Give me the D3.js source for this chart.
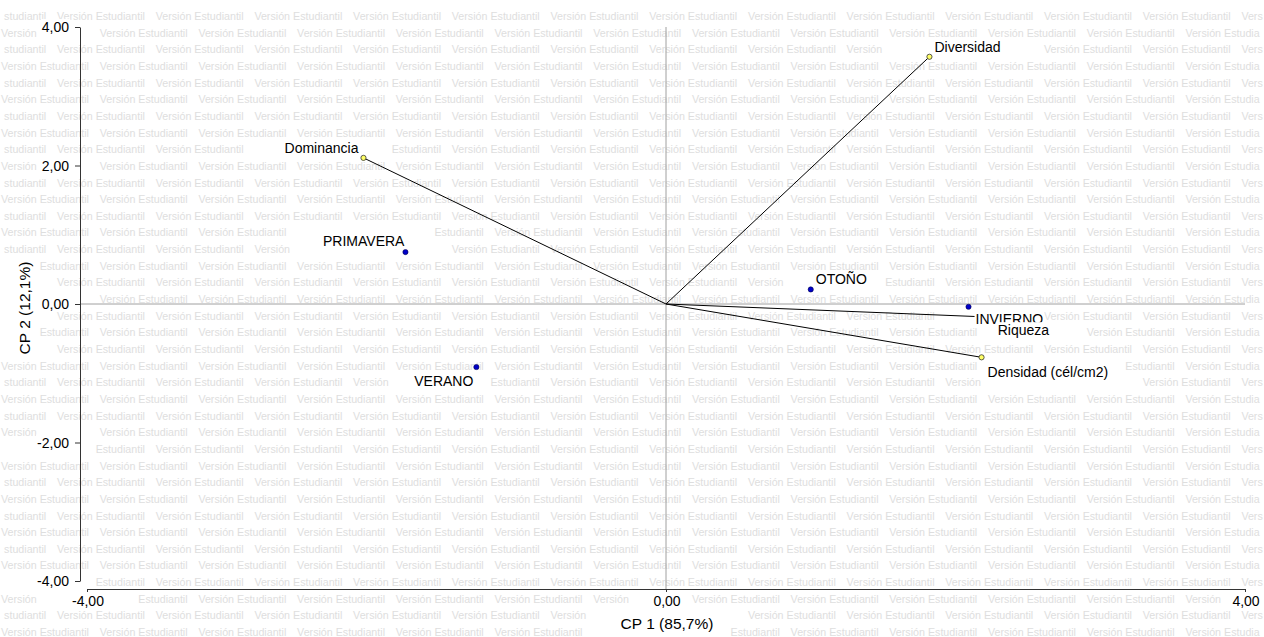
<!DOCTYPE html>
<html>
<head>
<meta charset="utf-8">
<script src="https://cdn.jsdelivr.net/npm/d3@7"></script>
<style>
  html, body { margin: 0; padding: 0; background: #fff; }
  svg { display: block; font-family: "Liberation Sans", Arial, sans-serif; }
</style>
</head>
<body>
<svg id="chart" width="1264" height="637"></svg>
<script>
// ---- data ----
const variables = ["Diversidad", "Dominancia", "Riqueza", "Densidad (cél/cm2)"];
const varX = [1.82, -2.09, 2.25, 2.18];
const varY = [3.57, 2.11, -0.19, -0.77];

const cases = ["PRIMAVERA", "VERANO", "OTOÑO", "INVIERNO"];
const caseX = [-1.80, -1.31, 1.00, 2.09];
const caseY = [0.75, -0.91, 0.21, -0.04];

const xTicks = [-4, 0, 4];
const yTicks = [4, 2, 0, -2, -4];
const xTitle = "CP 1 (85,7%)";
const yTitle = "CP 2 (12,1%)";
const watermarkWords = ["Versión", "Estudiantil"];

// ---- label placement (style) ----
const varLabelPos = [
  {dx: 5, dy: -10, anchor: "start"},
  {dx: -5, dy: -10, anchor: "end"},
  {dx: 6, dy: 13, anchor: "start"},
  {dx: 6, dy: 15, anchor: "start"}
];
const caseLabelPos = [
  {dx: -1, dy: -11, anchor: "end"},
  {dx: -3, dy: 14, anchor: "end"},
  {dx: 5, dy: -10, anchor: "start"},
  {dx: 7, dy: 12, anchor: "start"}
];

const svg = d3.select("#chart");
const W = 1264, H = 637;

const x = d3.scaleLinear().domain([-4, 4]).range([87, 1245]);
const y = d3.scaleLinear().domain([-4, 4]).range([581, 27]);

const loc = d3.formatLocale({decimal: ",", thousands: ".", grouping: [3], currency: ["", ""], minus: "-"});
const fmt = loc.format(".2f");

const wmG = svg.append("g").attr("fill", "#dedede").style("font-size", "10.7px");
const refG = svg.append("g");
const axG = svg.append("g");
const vecG = svg.append("g");
const labG = svg.append("g");

const boxes = [];
function labelWithBg(g, tx, ty, text, anchor, size, extra) {
  const grp = g.append("g");
  const rect = grp.append("rect").attr("fill", "#fff");
  const t = grp.append("text")
    .attr("x", tx).attr("y", ty)
    .attr("text-anchor", anchor)
    .attr("dominant-baseline", "central")
    .style("font-size", size + "px")
    .attr("fill", "#000")
    .text(text);
  if (extra) extra(t);
  const b = t.node().getBBox();
  rect.attr("x", b.x - 1).attr("y", b.y).attr("width", b.width + 2).attr("height", b.height);
  if (extra) extra(rect);
  const r = t.node().getBoundingClientRect();
  boxes.push({x0: r.left, y0: r.top + 2, x1: r.right, y1: r.bottom - 2});
  return grp;
}

// ---- reference lines ----
refG.append("line").attr("x1", x(0)).attr("x2", x(0)).attr("y1", 27).attr("y2", 589)
  .attr("stroke", "#a0a0a0").attr("stroke-width", 1);
refG.append("line").attr("x1", 80).attr("x2", 1245).attr("y1", y(0)).attr("y2", y(0))
  .attr("stroke", "#a0a0a0").attr("stroke-width", 1);

// ---- axes ----
const yAxis = axG.append("g").attr("transform", "translate(80,0)")
  .call(d3.axisLeft(y).tickValues(yTicks).tickSize(5).tickSizeOuter(0).tickFormat(() => ""));
yAxis.select(".domain").attr("stroke", "#333");
yAxis.selectAll(".tick line").attr("stroke", "#333");

const xAxis = axG.append("g").attr("transform", "translate(0,589)")
  .call(d3.axisBottom(x).tickValues(xTicks).tickSize(3).tickSizeOuter(0).tickFormat(() => ""));
xAxis.select(".domain").attr("stroke", "#333");
xAxis.selectAll(".tick line").attr("stroke", "#333");

yTicks.forEach(v => labelWithBg(axG, 69, y(v), fmt(v), "end", 14));
xTicks.forEach(v => labelWithBg(axG, x(v) + 1, 601, fmt(v), "middle", 14));

labelWithBg(axG, 667, 623, xTitle, "middle", 15.5);
labelWithBg(axG, 0, 0, yTitle, "middle", 15.5,
  s => s.attr("transform", "translate(24,308) rotate(-90)"));

// ---- vectors ----
variables.forEach((v, i) => {
  vecG.append("line")
    .attr("x1", x(0)).attr("y1", y(0))
    .attr("x2", x(varX[i])).attr("y2", y(varY[i]))
    .attr("stroke", "#000").attr("stroke-width", 1);
});
variables.forEach((v, i) => {
  vecG.append("circle").attr("cx", x(varX[i])).attr("cy", y(varY[i])).attr("r", 2.6)
    .attr("fill", "#ffff66").attr("stroke", "#333").attr("stroke-width", 0.8);
});
cases.forEach((c, i) => {
  vecG.append("circle").attr("cx", x(caseX[i])).attr("cy", y(caseY[i])).attr("r", 2.6)
    .attr("fill", "#0000c8").attr("stroke", "#000050").attr("stroke-width", 0.6);
});

// ---- labels ----
cases.forEach((c, i) => {
  const p = caseLabelPos[i];
  labelWithBg(labG, x(caseX[i]) + p.dx, y(caseY[i]) + p.dy, c, p.anchor, 14);
});
variables.forEach((v, i) => {
  const p = varLabelPos[i];
  labelWithBg(labG, x(varX[i]) + p.dx, y(varY[i]) + p.dy, v, p.anchor, 14);
});

// ---- watermark (behind everything) ----
const meas = wmG.append("text").attr("x", -999).attr("y", -999);
function wid(s) { if (!s) return 0; meas.text(s); return meas.node().getComputedTextLength(); }
const spaceW = wid("a a") - wid("aa");
const wVersion = wid(watermarkWords[0]) + spaceW;
const period = 98.7;
function hits(x0, y0, x1, y1) {
  return boxes.some(b => x0 < b.x1 && x1 > b.x0 && y0 < b.y1 && y1 > b.y0);
}
for (let i = 0; i < 39; i++) {
  const base = 16 + i * 16.65 + 4;
  const start = (i % 2 === 0) ? 57 - period : 1;
  for (let s = start; s < W; s += period) {
    [[watermarkWords[0], s], [watermarkWords[1], s + wVersion]].forEach(([word, wx]) => {
      let w = word, xx = wx;
      if (xx < 0) {
        let k = 0;
        while (k < w.length && xx + wid(w.slice(0, k)) < 0) k++;
        xx = xx + wid(w.slice(0, k));
        w = w.slice(k);
      }
      while (w.length && xx + wid(w) > W - 1) w = w.slice(0, -1);
      if (!w.length || xx >= W - 1) return;
      const ww = wid(w);
      if (hits(xx, base - 8, xx + ww, base + 1)) return;
      wmG.append("text").attr("x", xx).attr("y", base).text(w);
    });
  }
}
meas.remove();
</script>
</body>
</html>
